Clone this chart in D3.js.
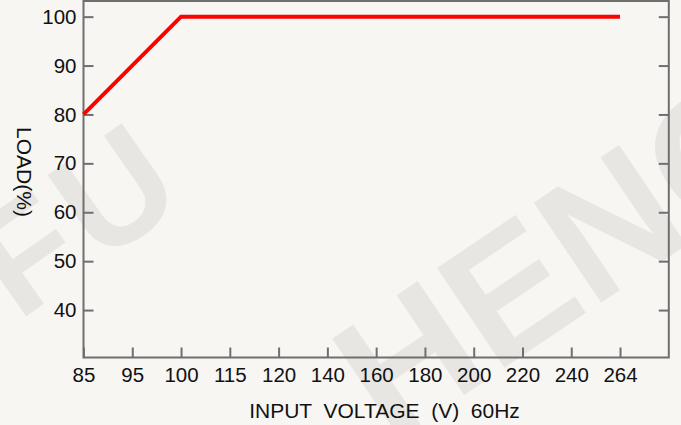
<!DOCTYPE html>
<html>
<head>
<meta charset="utf-8">
<script src="https://cdn.jsdelivr.net/npm/d3@7"></script>
<style>
  html, body { margin: 0; padding: 0; background: #f7f6f3; }
  svg { display: block; }
  text { font-family: "Liberation Sans", Arial, sans-serif; fill: #111; }
</style>
</head>
<body>
<div id="chart"></div>
<script>
// x axis categories (input voltage, evenly spaced)
const voltageLabels = ['85', '95', '100', '115', '120', '140', '160', '180', '200', '220', '240', '264'];
// y axis ticks (load %)
const loadTicks = [40, 50, 60, 70, 80, 90, 100];
// derating curve
const curveVoltage = ['85', '100', '264'];
const curveLoad = [80, 100, 100];

const width = 681;
const height = 425;
const plotLeft = 83.5, plotRight = 668.8, plotTop = 1, plotBottom = 357.5;

const svg = d3.select('#chart')
  .append('svg')
  .attr('width', width)
  .attr('height', height);

svg.append('rect')
  .attr('width', width)
  .attr('height', height)
  .attr('fill', '#f7f6f3');

// faint watermark
const wm = svg.append('g')
  .style('font-family', '"Liberation Sans", Arial, sans-serif')
  .style('font-weight', 'bold');
wm.append('text')
  .attr('transform', 'translate(18,322) rotate(-35)')
  .style('font-size', '150px')
  .style('letter-spacing', '8px')
  .style('fill', '#e8e6e3')
  .text('FU');
wm.append('text')
  .attr('transform', 'translate(390,445) rotate(-34)')
  .style('font-size', '175px')
  .style('fill', '#e8e6e3')
  .text('HENG');

// scales
const step = (plotRight - plotLeft) / voltageLabels.length;
const x = d3.scalePoint()
  .domain(voltageLabels)
  .range([plotLeft, plotRight - step]);

const y = d3.scaleLinear()
  .domain([30.3, 103.2])
  .range([plotBottom, plotTop]);

// frame
svg.append('rect')
  .attr('x', plotLeft)
  .attr('y', plotTop)
  .attr('width', plotRight - plotLeft)
  .attr('height', plotBottom - plotTop)
  .attr('fill', 'none')
  .attr('stroke', '#6f6f6f')
  .attr('stroke-width', 2);

// axes with inward ticks
const yAxisL = d3.axisLeft(y).tickValues(loadTicks).tickSize(-10).tickPadding(7);
const yAxisR = d3.axisRight(y).tickValues(loadTicks).tickSize(-10).tickFormat('');
const xAxis = d3.axisBottom(x).tickSize(-10).tickPadding(10);

function styleAxis(g) {
  g.select('.domain').remove();
  g.selectAll('.tick line').attr('stroke', '#6f6f6f').attr('stroke-width', 2);
  g.selectAll('.tick text')
    .style('font-size', '20.5px')
    .style('font-family', '"Liberation Sans", Arial, sans-serif')
    .attr('fill', '#111');
}

svg.append('g')
  .attr('transform', `translate(${plotLeft},0)`)
  .call(yAxisL)
  .call(styleAxis);

svg.append('g')
  .attr('transform', `translate(${plotRight},0)`)
  .call(yAxisR)
  .call(styleAxis);

svg.append('g')
  .attr('transform', `translate(0,${plotBottom})`)
  .call(xAxis)
  .call(styleAxis);

// curve
const pts = curveVoltage.map((v, i) => [x(v), y(curveLoad[i])]);
svg.append('path')
  .attr('d', d3.line()(pts))
  .attr('fill', 'none')
  .attr('stroke', '#ff0000')
  .attr('stroke-width', 4)
  .attr('stroke-linejoin', 'miter');

// axis titles
svg.append('text')
  .attr('x', 384.5)
  .attr('y', 418)
  .attr('text-anchor', 'middle')
  .style('font-size', '21px')
  .style('white-space', 'pre')
  .text('INPUT  VOLTAGE  (V)  60Hz');

svg.append('text')
  .attr('transform', 'translate(17,172) rotate(90)')
  .attr('text-anchor', 'middle')
  .style('font-size', '21px')
  .text('LOAD(%)');
</script>
</body>
</html>
